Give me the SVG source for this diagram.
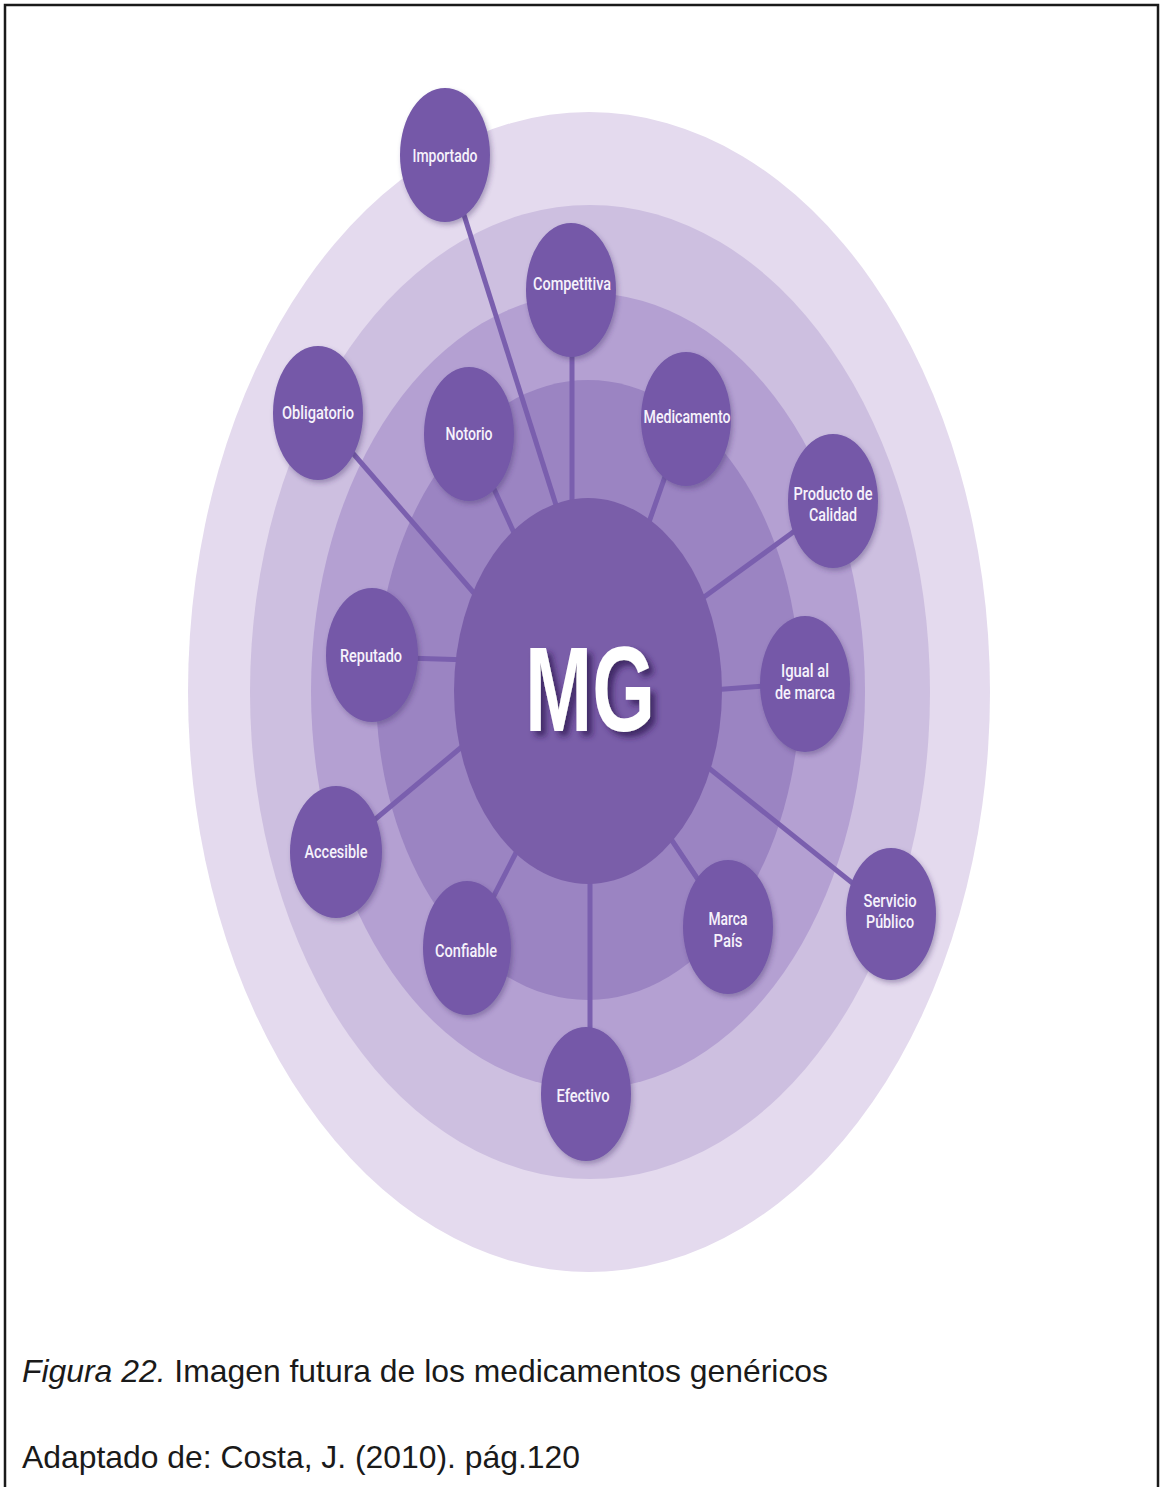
<svg xmlns="http://www.w3.org/2000/svg" width="1161" height="1487" viewBox="0 0 1161 1487">
  <style>
    .lbl { font-family: Roboto, "Liberation Sans", sans-serif; font-weight: 500; font-size: 18px; fill: #f6f2fb; text-anchor: middle; }
    .node { fill: #7459a8; filter: url(#sh); }
    .conn line { stroke: #7a5fae; stroke-width: 5; }
    .cap { font-family: "Liberation Sans", Arial, sans-serif; font-size: 32px; fill: #1a1a1a; }
  </style>
  <defs>
    <filter id="sh" x="-20%" y="-20%" width="140%" height="140%">
      <feDropShadow dx="2" dy="3" stdDeviation="2.5" flood-color="#3b2a63" flood-opacity="0.35"/>
    </filter>
    <filter id="mgsh" x="-20%" y="-20%" width="140%" height="140%">
      <feDropShadow dx="5" dy="5" stdDeviation="3" flood-color="#2e1f55" flood-opacity="0.8"/>
    </filter>
  </defs>
  <rect width="1161" height="1487" fill="#ffffff"/>
  <path d="M5 1487 V5 H1158 V1487" fill="none" stroke="#1a1a1a" stroke-width="2.5"/>

  <g id="rings">
    <ellipse cx="589" cy="692" rx="401" ry="580" fill="#e4daee"/>
    <ellipse cx="590" cy="692" rx="340" ry="487" fill="#cdbfe0"/>
    <ellipse cx="588" cy="691" rx="277" ry="398" fill="#b4a0d2"/>
    <ellipse cx="588" cy="690" rx="212" ry="310" fill="#9b84c2"/>
  </g>

  <g id="connectors" class="conn">
    <line x1="445" y1="155" x2="556" y2="505"/>
    <line x1="572" y1="289" x2="572" y2="505"/>
    <line x1="318" y1="413" x2="480" y2="600"/>
    <line x1="469" y1="434" x2="515" y2="535"/>
    <line x1="686" y1="417" x2="648" y2="525"/>
    <line x1="833" y1="503" x2="700" y2="600"/>
    <line x1="374" y1="657" x2="470" y2="660"/>
    <line x1="805" y1="683" x2="712" y2="690"/>
    <line x1="336" y1="852" x2="470" y2="740"/>
    <line x1="466" y1="950" x2="520" y2="845"/>
    <line x1="729" y1="926" x2="665" y2="830"/>
    <line x1="891" y1="914" x2="705" y2="765"/>
    <line x1="590" y1="860" x2="590" y2="1095"/>
  </g>

  <g id="mg">
    <ellipse cx="588" cy="691" rx="134" ry="193" fill="#7a5ea9"/>
    <text x="590" y="731" font-family="'Liberation Sans', Arial, sans-serif" font-weight="bold" font-size="120" fill="#ffffff" text-anchor="middle" textLength="130" lengthAdjust="spacingAndGlyphs" filter="url(#mgsh)">MG</text>
  </g>

  <g id="importado"><ellipse class="node" cx="445" cy="155" rx="45" ry="67"/><text class="lbl" x="445" y="162" textLength="65" lengthAdjust="spacingAndGlyphs">Importado</text></g>
  <g id="competitiva"><ellipse class="node" cx="571" cy="290" rx="45" ry="67"/><text class="lbl" x="572" y="290" textLength="78" lengthAdjust="spacingAndGlyphs">Competitiva</text></g>
  <g id="obligatorio"><ellipse class="node" cx="318" cy="413" rx="45" ry="67"/><text class="lbl" x="318" y="419" textLength="72" lengthAdjust="spacingAndGlyphs">Obligatorio</text></g>
  <g id="notorio"><ellipse class="node" cx="469" cy="434" rx="45" ry="67"/><text class="lbl" x="469" y="440" textLength="47" lengthAdjust="spacingAndGlyphs">Notorio</text></g>
  <g id="medicamento"><ellipse class="node" cx="686" cy="419" rx="45" ry="67"/><text class="lbl" x="687" y="423" textLength="87" lengthAdjust="spacingAndGlyphs">Medicamento</text></g>
  <g id="producto"><ellipse class="node" cx="833" cy="501" rx="45" ry="67"/><text class="lbl" x="833" y="500" textLength="79" lengthAdjust="spacingAndGlyphs">Producto de</text><text class="lbl" x="833" y="521" textLength="48" lengthAdjust="spacingAndGlyphs">Calidad</text></g>
  <g id="reputado"><ellipse class="node" cx="372" cy="655" rx="46" ry="67"/><text class="lbl" x="371" y="662" textLength="62" lengthAdjust="spacingAndGlyphs">Reputado</text></g>
  <g id="igual"><ellipse class="node" cx="805" cy="684" rx="45" ry="68"/><text class="lbl" x="805" y="677" textLength="48" lengthAdjust="spacingAndGlyphs">Igual al</text><text class="lbl" x="805" y="699" textLength="60" lengthAdjust="spacingAndGlyphs">de marca</text></g>
  <g id="accesible"><ellipse class="node" cx="336" cy="852" rx="46" ry="66"/><text class="lbl" x="336" y="858" textLength="63" lengthAdjust="spacingAndGlyphs">Accesible</text></g>
  <g id="confiable"><ellipse class="node" cx="467" cy="948" rx="44" ry="67"/><text class="lbl" x="466" y="957" textLength="62" lengthAdjust="spacingAndGlyphs">Confiable</text></g>
  <g id="marcapais"><ellipse class="node" cx="728" cy="927" rx="45" ry="67"/><text class="lbl" x="728" y="925" textLength="39" lengthAdjust="spacingAndGlyphs">Marca</text><text class="lbl" x="728" y="947" textLength="29" lengthAdjust="spacingAndGlyphs">País</text></g>
  <g id="servicio"><ellipse class="node" cx="891" cy="914" rx="45" ry="66"/><text class="lbl" x="890" y="907" textLength="53" lengthAdjust="spacingAndGlyphs">Servicio</text><text class="lbl" x="890" y="928" textLength="48" lengthAdjust="spacingAndGlyphs">Público</text></g>
  <g id="efectivo"><ellipse class="node" cx="586" cy="1094" rx="45" ry="67"/><text class="lbl" x="583" y="1102" textLength="53" lengthAdjust="spacingAndGlyphs">Efectivo</text></g>

  <g id="caption">
    <text class="cap" x="22" y="1382" textLength="806" lengthAdjust="spacingAndGlyphs"><tspan font-style="italic">Figura 22.</tspan> Imagen futura de los medicamentos genéricos</text>
    <text class="cap" x="22" y="1468" textLength="558" lengthAdjust="spacingAndGlyphs">Adaptado de: Costa, J. (2010). pág.120</text>
  </g>
</svg>
